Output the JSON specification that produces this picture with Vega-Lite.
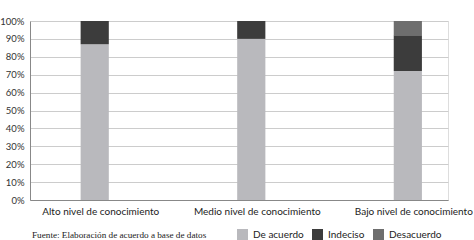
{
  "$schema": "https://vega.github.io/schema/vega-lite/v6.json",
  "width": 418,
  "height": 179,
  "autosize": {"type": "none"},
  "padding": {"left": 30, "top": 21, "right": 26, "bottom": 40},
  "background": "white",
  "title": {
    "text": "Fuente: Elaboración de acuerdo a base de datos",
    "orient": "bottom",
    "anchor": "start",
    "frame": "group",
    "font": "Liberation Serif",
    "fontSize": 9.2,
    "fontWeight": "normal",
    "color": "#222222",
    "offset": 0,
    "dy": -9,
    "dx": 2
  },
  "data": {
    "values": [
      {"nivel": "Alto nivel de conocimiento", "respuesta": "De acuerdo", "orden": 1, "valor": 0.87},
      {"nivel": "Alto nivel de conocimiento", "respuesta": "Indeciso", "orden": 2, "valor": 0.13},
      {"nivel": "Alto nivel de conocimiento", "respuesta": "Desacuerdo", "orden": 3, "valor": 0.0},
      {"nivel": "Medio nivel de conocimiento", "respuesta": "De acuerdo", "orden": 1, "valor": 0.9},
      {"nivel": "Medio nivel de conocimiento", "respuesta": "Indeciso", "orden": 2, "valor": 0.1},
      {"nivel": "Medio nivel de conocimiento", "respuesta": "Desacuerdo", "orden": 3, "valor": 0.0},
      {"nivel": "Bajo nivel de conocimiento", "respuesta": "De acuerdo", "orden": 1, "valor": 0.72},
      {"nivel": "Bajo nivel de conocimiento", "respuesta": "Indeciso", "orden": 2, "valor": 0.2},
      {"nivel": "Bajo nivel de conocimiento", "respuesta": "Desacuerdo", "orden": 3, "valor": 0.08}
    ]
  },
  "mark": {"type": "bar"},
  "encoding": {
    "x": {
      "field": "nivel",
      "type": "nominal",
      "sort": ["Alto nivel de conocimiento", "Medio nivel de conocimiento", "Bajo nivel de conocimiento"],
      "scale": {"paddingInner": 0.82, "paddingOuter": 0.245, "align": 0.66},
      "axis": {
        "title": null,
        "labelAngle": 0,
        "ticks": false,
        "labelFont": "Lato",
        "labelFontSize": 10,
        "labelColor": "#222222",
        "labelPadding": 6,
        "labelOffset": 6,
        "labelLimit": 200,
        "labelOverlap": false,
        "labelBound": false,
        "domainColor": "#888888",
        "grid": false
      }
    },
    "y": {
      "field": "valor",
      "type": "quantitative",
      "stack": "zero",
      "scale": {"domain": [0, 1]},
      "axis": {
        "title": null,
        "format": ".0%",
        "values": [0, 0.1, 0.2, 0.3, 0.4, 0.5, 0.6, 0.7, 0.8, 0.9, 1],
        "ticks": false,
        "labelFont": "Lato",
        "labelFontSize": 9.5,
        "labelColor": "#333333",
        "labelPadding": 6,
        "domainColor": "#888888",
        "gridColor": "#cccccc",
        "gridWidth": 1
      }
    },
    "color": {
      "field": "respuesta",
      "type": "nominal",
      "sort": ["De acuerdo", "Indeciso", "Desacuerdo"],
      "scale": {"domain": ["De acuerdo", "Indeciso", "Desacuerdo"], "range": ["#b9b9bd", "#3c3c3c", "#6e6e6e"]},
      "legend": {
        "title": null,
        "orient": "none",
        "direction": "horizontal",
        "legendX": 207,
        "legendY": 208,
        "symbolType": "square",
        "symbolSize": 121,
        "symbolStrokeWidth": 0,
        "labelFont": "Lato",
        "labelFontSize": 10,
        "labelColor": "#222222",
        "labelOffset": 5,
        "columnPadding": 8
      }
    },
    "order": {"field": "orden", "type": "quantitative"}
  }
}
